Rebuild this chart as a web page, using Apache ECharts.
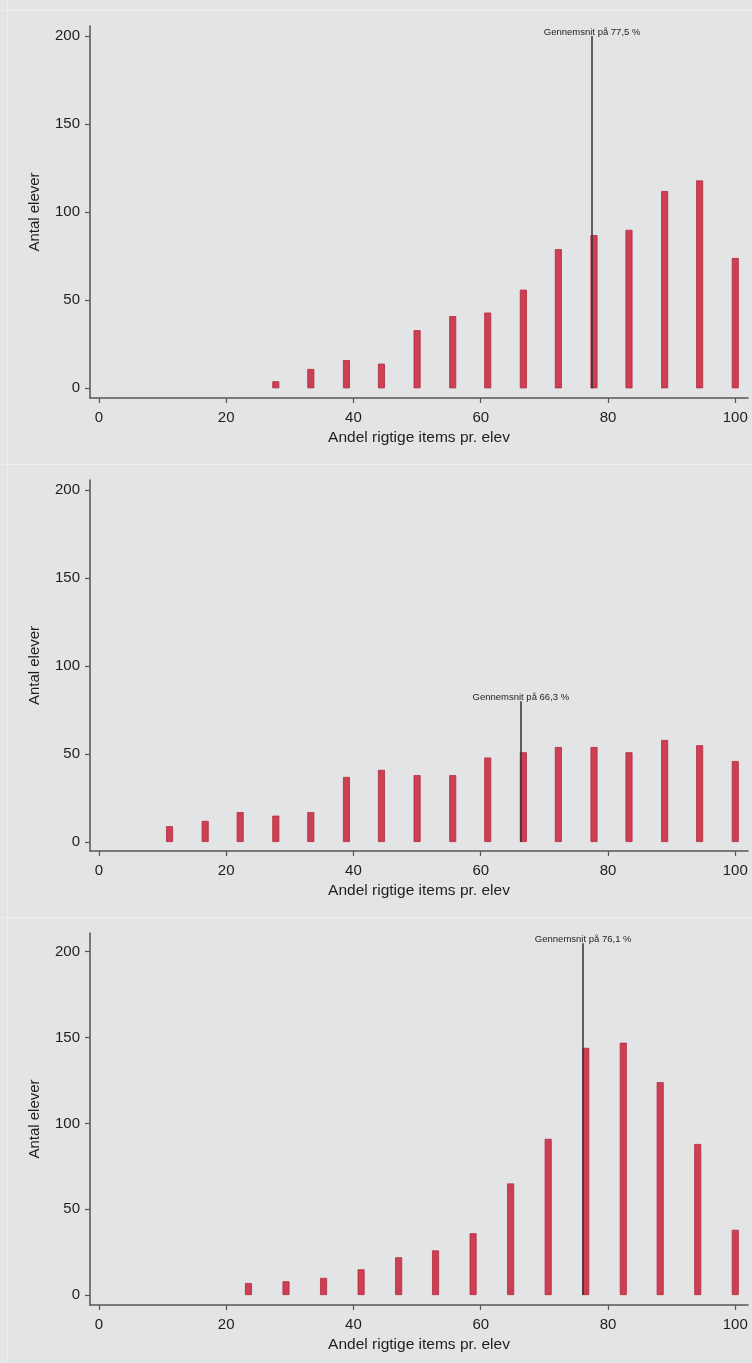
<!DOCTYPE html>
<html>
<head>
<meta charset="utf-8">
<script src="https://cdn.jsdelivr.net/npm/echarts@6/dist/echarts.min.js"></script>
<style>
  html, body { margin: 0; padding: 0; background: #e3e4e6; }
  #chart { width: 752px; height: 1363px; position: relative; }
  .sep { position: absolute; background: #eceeef; }
</style>
</head>
<body>
<div id="chart"></div>
<div class="sep" style="left:7px;top:0;width:1px;height:1363px;"></div>
<div class="sep" style="left:0;top:10px;width:752px;height:1px;"></div>
<div class="sep" style="left:0;top:464px;width:752px;height:1px;"></div>
<div class="sep" style="left:0;top:917px;width:752px;height:1px;"></div>
<script>
// Panel 1
const x1 = [27.8, 33.3, 38.9, 44.4, 50.0, 55.6, 61.1, 66.7, 72.2, 77.8, 83.3, 88.9, 94.4, 100.0];
const y1 = [4, 11, 16, 14, 33, 41, 43, 56, 79, 87, 90, 112, 118, 74];
const mean1 = 77.5;
const meanLabel1 = 'Gennemsnit på 77,5 %';
const meanTop1 = 200;

// Panel 2
const x2 = [11.1, 16.7, 22.2, 27.8, 33.3, 38.9, 44.4, 50.0, 55.6, 61.1, 66.7, 72.2, 77.8, 83.3, 88.9, 94.4, 100.0];
const y2 = [9, 12, 17, 15, 17, 37, 41, 38, 38, 48, 51, 54, 54, 51, 58, 55, 46];
const mean2 = 66.3;
const meanLabel2 = 'Gennemsnit på 66,3 %';
const meanTop2 = 80;

// Panel 3
const x3 = [23.5, 29.4, 35.3, 41.2, 47.1, 52.9, 58.8, 64.7, 70.6, 76.5, 82.4, 88.2, 94.1, 100.0];
const y3 = [7, 8, 10, 15, 22, 26, 36, 65, 91, 144, 147, 124, 88, 38];
const mean3 = 76.1;
const meanLabel3 = 'Gennemsnit på 76,1 %';
const meanTop3 = 205;

const xTicks = [0, 20, 40, 60, 80, 100];
const yTicks = [0, 50, 100, 150, 200];
const xTitle = 'Andel rigtige items pr. elev';
const yTitle = 'Antal elever';

const FONT = 'Liberation Sans, Arial, sans-serif';
const axisColor = '#555555';
const textColor = '#1e1e1e';

const panels = [
  { xs: x1, ys: y1, mean: mean1, label: meanLabel1, top: meanTop1, grid: { top: 26, height: 372 }, ymin: -5.5, ymax: 205.7 },
  { xs: x2, ys: y2, mean: mean2, label: meanLabel2, top: meanTop2, grid: { top: 480, height: 371 }, ymin: -5.1, ymax: 205.7 },
  { xs: x3, ys: y3, mean: mean3, label: meanLabel3, top: meanTop3, grid: { top: 933, height: 372 }, ymin: -5.8, ymax: 210.9 }
];

const chart = echarts.init(document.getElementById('chart'), null, { renderer: 'canvas' });

const grids = [], xAxes = [], yAxes = [], series = [];
panels.forEach((p, i) => {
  grids.push({ left: 90, width: 658, top: p.grid.top, height: p.grid.height, containLabel: false });
  xAxes.push({
    type: 'value', gridIndex: i, min: -1.4, max: 102,
    name: xTitle, nameLocation: 'middle', nameGap: 32,
    nameTextStyle: { fontFamily: FONT, fontSize: 15.5, color: textColor },
    axisLine: { show: true, onZero: false, lineStyle: { color: axisColor, width: 1.5 } },
    axisTick: { show: true, length: 5, lineStyle: { color: axisColor, width: 1.2 }, customValues: xTicks },
    axisLabel: { fontFamily: FONT, fontSize: 15, color: textColor, margin: 12, customValues: xTicks, showMinLabel: true, showMaxLabel: true },
    splitLine: { show: false }
  });
  yAxes.push({
    type: 'value', gridIndex: i, min: p.ymin, max: p.ymax,
    name: yTitle, nameLocation: 'middle', nameGap: 48, nameRotate: 90,
    nameTextStyle: { fontFamily: FONT, fontSize: 15, color: textColor },
    axisLine: { show: true, onZero: false, lineStyle: { color: axisColor, width: 1.5 } },
    axisTick: { show: true, length: 5, lineStyle: { color: axisColor, width: 1.2 }, customValues: yTicks },
    axisLabel: { fontFamily: FONT, fontSize: 15, color: textColor, margin: 10, customValues: yTicks },
    splitLine: { show: false }
  });
  series.push({
    type: 'bar', xAxisIndex: i, yAxisIndex: i,
    data: p.xs.map((x, k) => [x, p.ys[k]]),
    barWidth: 7,
    itemStyle: { color: '#cd3f53', borderColor: '#b42a3f', borderWidth: 0.8 },
    silent: true,
    markLine: {
      silent: true, symbol: 'none', animation: false,
      lineStyle: { color: '#333333', width: 1.5, type: 'solid' },
      label: { show: true, position: 'end', distance: -1, formatter: p.label, fontFamily: FONT, fontSize: 9.5, color: textColor },
      data: [[{ coord: [p.mean, 0] }, { coord: [p.mean, p.top] }]]
    }
  });
});

chart.setOption({
  animation: false,
  backgroundColor: 'transparent',
  grid: grids,
  xAxis: xAxes,
  yAxis: yAxes,
  series: series
});
</script>
</body>
</html>
